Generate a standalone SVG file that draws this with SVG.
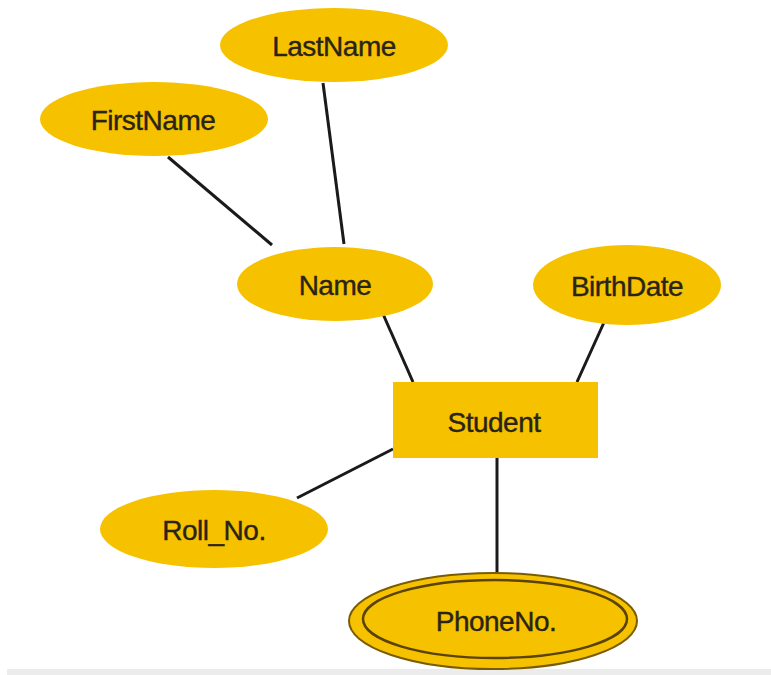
<svg xmlns="http://www.w3.org/2000/svg" width="771" height="675" viewBox="0 0 771 675">
<style>
.n{fill:#f6c200;}
.t{font-family:"Liberation Sans",Arial,sans-serif;font-size:28px;fill:#2a2418;stroke:#2a2418;stroke-width:0.4;text-anchor:middle;dominant-baseline:central;letter-spacing:-0.5px;}
.c line{stroke:#1a1a1a;stroke-width:3;}
</style>
<rect width="771" height="675" fill="#ffffff"/>
<rect x="7" y="669" width="764" height="6" fill="#ececec"/>
<g class="c" id="connectors">
<line x1="168" y1="157" x2="272" y2="245"/>
<line x1="323" y1="83" x2="344" y2="244"/>
<line x1="383" y1="314" x2="413" y2="382"/>
<line x1="606" y1="318" x2="577" y2="382"/>
<line x1="393" y1="449" x2="297" y2="498"/>
<line x1="497" y1="458" x2="497" y2="573"/>
</g>
<g id="lastname"><ellipse class="n" cx="334" cy="45" rx="114" ry="37"/><text class="t" x="334" y="46">LastName</text></g>
<g id="firstname"><ellipse class="n" cx="154" cy="119" rx="114" ry="37"/><text class="t" x="153" y="120">FirstName</text></g>
<g id="name"><ellipse class="n" cx="335" cy="284" rx="98" ry="37"/><text class="t" x="335" y="285">Name</text></g>
<g id="birthdate"><ellipse class="n" cx="627" cy="285" rx="94" ry="40"/><text class="t" x="627" y="286">BirthDate</text></g>
<g id="student"><rect class="n" x="393" y="382" width="205" height="76"/><text class="t" x="494" y="422">Student</text></g>
<g id="rollno"><ellipse class="n" cx="214" cy="529" rx="114" ry="39"/><text class="t" x="214" y="530">Roll_No.</text></g>
<g id="phoneno">
<ellipse class="n" cx="493" cy="621" rx="144" ry="48" stroke="#7a5c00" stroke-width="2"/>
<ellipse class="n" cx="495" cy="619" rx="132" ry="39" stroke="#5a4200" stroke-width="2.5"/>
<text class="t" x="496" y="621">PhoneNo.</text>
</g>
</svg>
